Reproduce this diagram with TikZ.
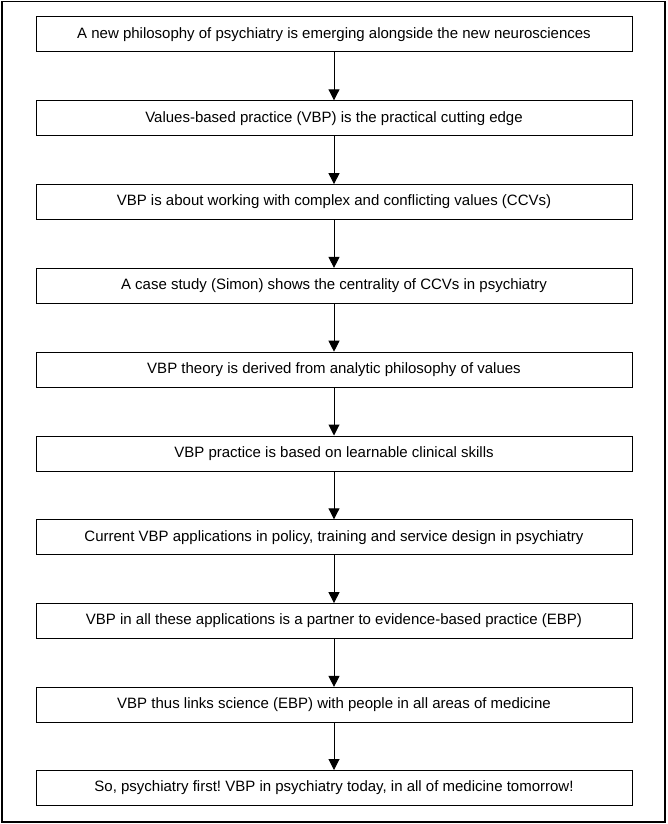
\documentclass[tikz,border=0pt]{standalone}
\usepackage{fontspec}
\setmainfont{Liberation Sans}
\usetikzlibrary{arrows.meta}
\frenchspacing

\begin{document}
\begin{tikzpicture}[%
      x=1pt, y=-1pt,
      stepbox/.style={draw=black, line width=1pt, minimum width=596pt, minimum height=35pt, inner sep=0pt, font=\fontsize{15}{18}\selectfont},
      flow/.style={draw=black, line width=1pt, -{Triangle[width=11pt,length=11pt]}},
      ]
      \useasboundingbox (0,0) rectangle (667,824);
      \draw [line width=1.2pt] (2,1.5) rectangle (665,822);

      \node [stepbox] (b1) at (334,34.5) {A new philosophy of psychiatry is emerging alongside the new neurosciences};
      \node [stepbox] (b2) at (334,118.3) {Values-based practice (VBP) is the practical cutting edge};
      \node [stepbox] (b3) at (334,202.1) {VBP is about working with complex and conflicting values (CCVs)};
      \node [stepbox] (b4) at (334,285.9) {A case study (Simon) shows the centrality of CCVs in psychiatry};
      \node [stepbox] (b5) at (334,369.7) {VBP theory is derived from analytic philosophy of values};
      \node [stepbox] (b6) at (334,453.5) {VBP practice is based on learnable clinical skills};
      \node [stepbox] (b7) at (334,537.3) {Current VBP applications in policy, training and service design in psychiatry};
      \node [stepbox] (b8) at (334,621.1) {VBP in all these applications is a partner to evidence-based practice (EBP)};
      \node [stepbox] (b9) at (334,704.9) {VBP thus links science (EBP) with people in all areas of medicine};
      \node [stepbox] (b10) at (334,788.0) {So, psychiatry first! VBP in psychiatry today, in all of medicine tomorrow!};

      \draw [flow] (b1) -- (b2);
      \draw [flow] (b2) -- (b3);
      \draw [flow] (b3) -- (b4);
      \draw [flow] (b4) -- (b5);
      \draw [flow] (b5) -- (b6);
      \draw [flow] (b6) -- (b7);
      \draw [flow] (b7) -- (b8);
      \draw [flow] (b8) -- (b9);
      \draw [flow] (b9) -- (b10);
\end{tikzpicture}
\end{document}
